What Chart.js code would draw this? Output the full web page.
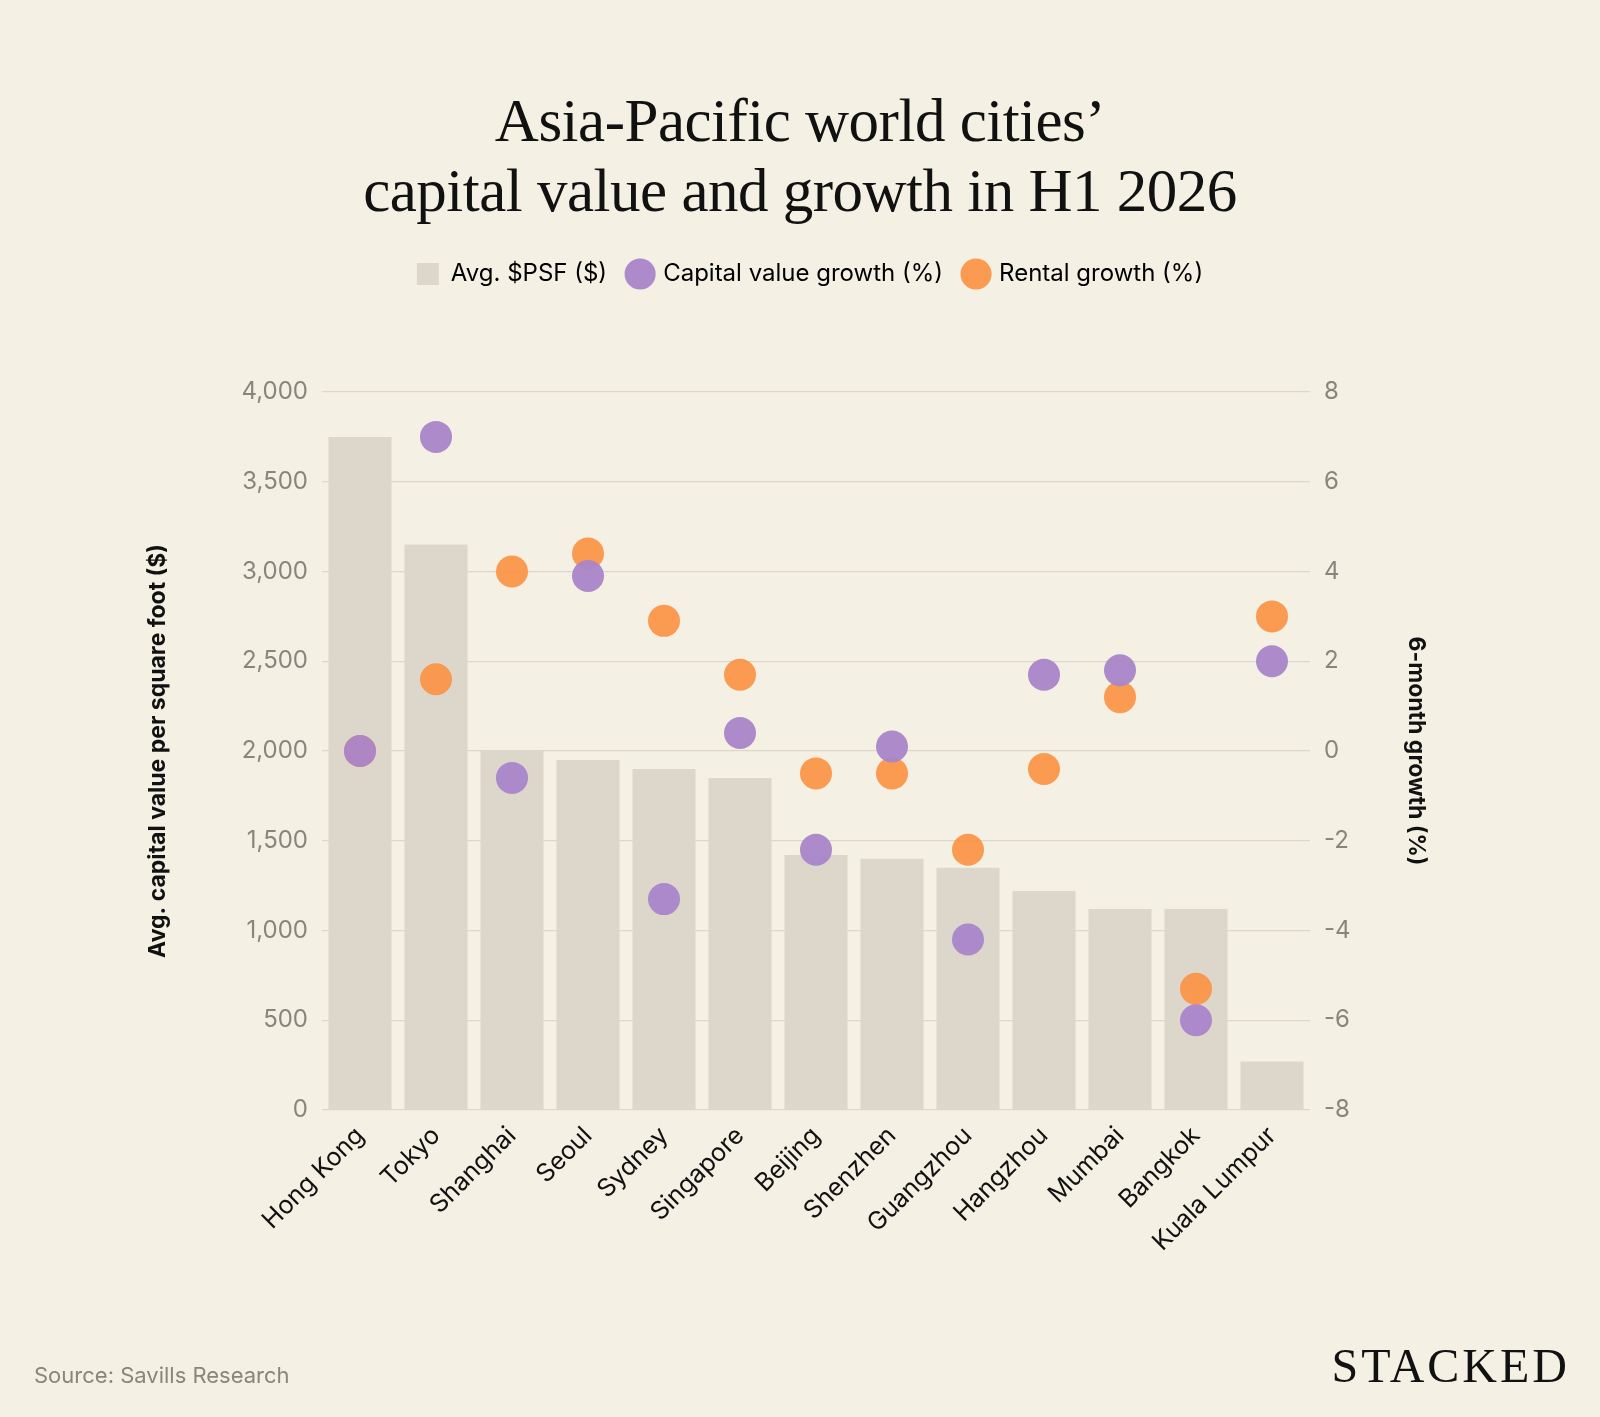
<!DOCTYPE html>
<html><head><meta charset="utf-8">
<script src="https://cdn.jsdelivr.net/npm/chart.js@4"></script>
<style>
html,body{margin:0;padding:0;background:#f4f0e4;}
#wrap{position:relative;width:1600px;height:1417px;}
#title{position:absolute;top:86px;left:0;width:1600px;text-align:center;font-family:"Liberation Serif","DejaVu Serif",serif;font-size:61px;line-height:70px;color:#111;letter-spacing:-0.5px}
#src{position:absolute;left:34px;top:1362px;font-family:Inter,"Noto Sans",sans-serif;font-size:22px;color:#8a857c}
#logo{position:absolute;right:30px;top:1338px;font-family:"Liberation Serif",serif;font-size:48px;letter-spacing:3px;color:#111}
canvas{position:absolute;left:0;top:0}
</style></head><body>
<div id="wrap">
<div id="title">Asia-Pacific world cities’<br>capital value and growth in H1 2026</div>
<canvas id="c" width="1600" height="1417"></canvas>
<div id="src">Source: Savills Research</div>
<div id="logo">STACKED</div>
</div>
<script>
const cities=["Hong Kong","Tokyo","Shanghai","Seoul","Sydney","Singapore","Beijing","Shenzhen","Guangzhou","Hangzhou","Mumbai","Bangkok","Kuala Lumpur"];
const avgPsf=[3750,3150,2000,1950,1900,1850,1420,1400,1350,1220,1120,1120,270];
const capitalGrowth=[0,7.0,-0.6,3.9,-3.3,0.4,-2.2,0.1,-4.2,1.7,1.8,-6.0,2.0];
const rentalGrowth=[0,1.6,4.0,4.4,2.9,1.7,-0.5,-0.5,-2.2,-0.4,1.2,-5.3,3.0];
const leftTicks=[0,500,1000,1500,2000,2500,3000,3500,4000];
const rightTicks=[-8,-6,-4,-2,0,2,4,6,8];
const font="Inter, 'Noto Sans', sans-serif";
const legendSpace={id:'legendSpace',beforeInit(chart){const l=chart.legend;if(!l)return;const f=l.fit;l.fit=function(){f.call(this);this.height+=96;};}};
new Chart(document.getElementById('c'),{
 type:'bar',
 plugins:[legendSpace],
 data:{labels:cities,datasets:[
  {type:'line',label:'Capital value growth (%)',data:capitalGrowth,yAxisID:'y2',showLine:false,pointRadius:16,pointHoverRadius:16,backgroundColor:'rgba(169,133,201,0.95)',borderColor:'rgba(169,133,201,0.95)',pointBorderWidth:0,order:1},
  {type:'line',label:'Rental growth (%)',data:rentalGrowth,yAxisID:'y2',showLine:false,pointRadius:16,pointHoverRadius:16,backgroundColor:'rgba(251,146,68,0.92)',borderColor:'rgba(251,146,68,0.92)',pointBorderWidth:0,order:2},
  {label:'Avg. $PSF ($)',data:avgPsf,yAxisID:'y',backgroundColor:'#ddd6cb',categoryPercentage:0.83,barPercentage:1,order:3}
 ]},
 options:{responsive:false,animation:false,
  layout:{padding:{top:240,left:140,right:120,bottom:107}},
  plugins:{tooltip:{enabled:false},
   legend:{position:'top',labels:{font:{family:font,size:24},color:'#222',usePointStyle:true,boxWidth:22,boxHeight:22,padding:22,
    generateLabels(ch){return [2,0,1].map(i=>{const d=ch.data.datasets[i];return {text:d.label,fillStyle:d.backgroundColor,strokeStyle:d.backgroundColor,lineWidth:0,pointStyle:i===2?'rect':'circle',datasetIndex:i};});}}}},
  scales:{
   x:{grid:{display:false},border:{display:false},ticks:{font:{family:font,size:25},color:'#111',maxRotation:45,minRotation:45},afterFit(s){s.height=200;}},
   y:{position:'left',min:0,max:4000,afterBuildTicks(s){s.ticks=leftTicks.map(v=>({value:v}));},
      ticks:{font:{family:font,size:24},color:'#8a857c',padding:14,callback:v=>v.toLocaleString('en-US')},
      grid:{color:'#dcd7ca',lineWidth:1.2,drawTicks:false},border:{display:false},
      title:{display:true,text:'Avg. capital value per square foot ($)',font:{family:font,size:23,weight:'bold'},color:'#111',padding:{bottom:50}},
      afterFit(s){s.width=182;}},
   y2:{position:'right',min:-8,max:8,afterBuildTicks(s){s.ticks=rightTicks.map(v=>({value:v}));},
      ticks:{font:{family:font,size:24},color:'#8a857c',padding:14},
      grid:{display:false,drawTicks:false},border:{display:false},
      title:{display:true,text:'6-month growth (%)',font:{family:font,size:23,weight:'bold'},color:'#111',padding:{top:50}},
      afterFit(s){s.width=170;}}
  }}
});
</script>
</body></html>
